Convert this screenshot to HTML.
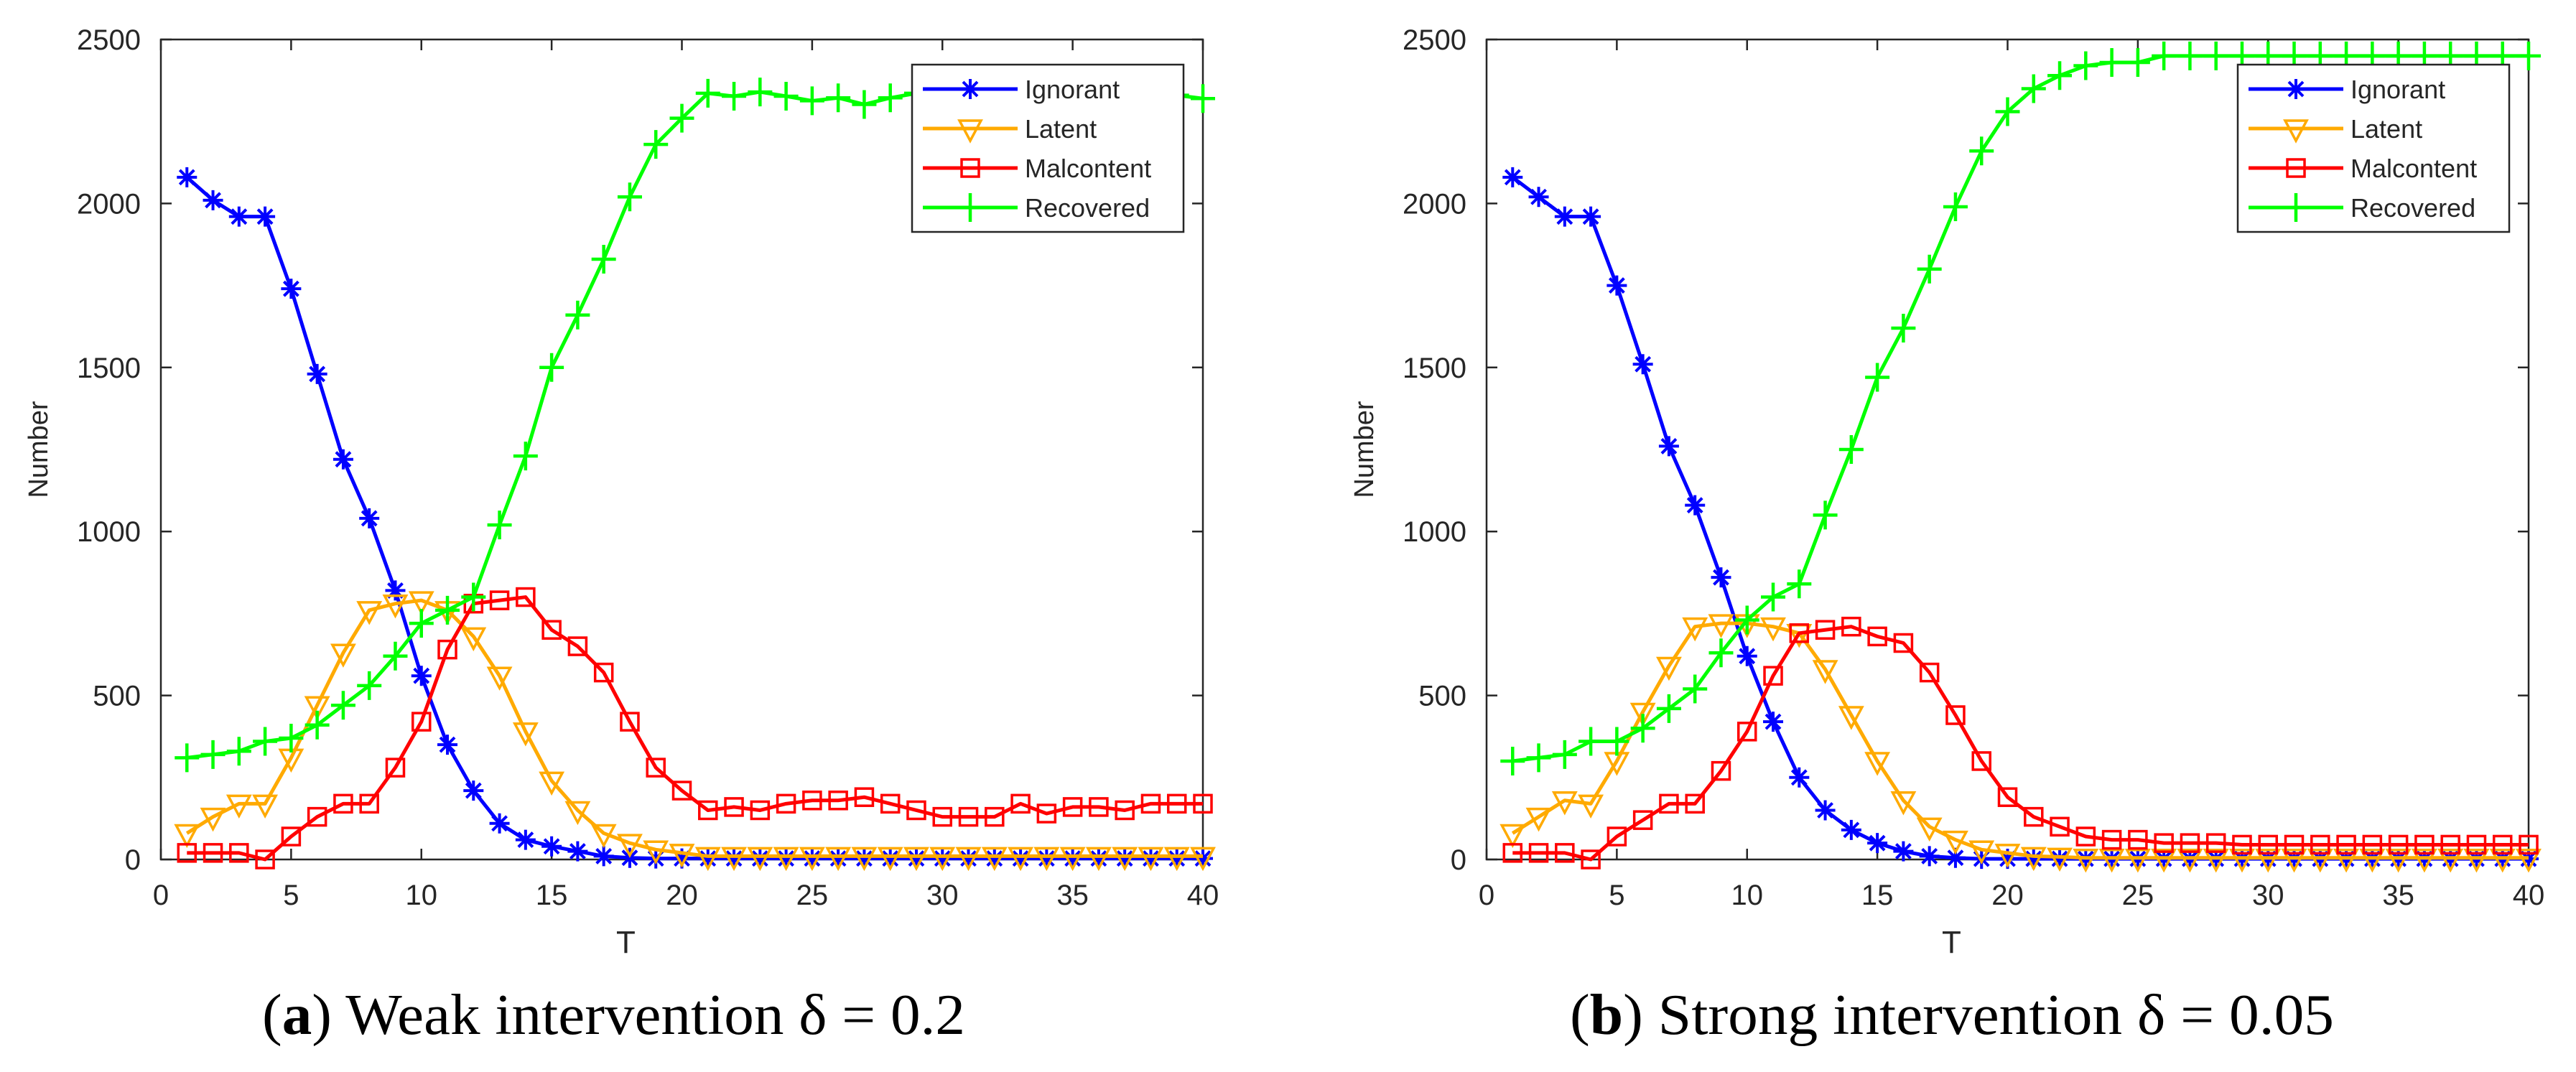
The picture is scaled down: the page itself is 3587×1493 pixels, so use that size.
<!DOCTYPE html>
<html><head><meta charset="utf-8"><style>
html,body{margin:0;padding:0;background:#fff}
svg{display:block}
text{font-family:"Liberation Sans",sans-serif;fill:#262626}
.cap{font-family:"Liberation Serif",serif;fill:#000}
</style></head><body>
<svg id="fig" width="3587" height="1493" viewBox="0 0 3587 1493" xmlns="http://www.w3.org/2000/svg"></svg>
<script>
const tVals = Array.from({length:40},(_, i)=>i+1);
const xTicks = [0,5,10,15,20,25,30,35,40];
const yTicks = [0,500,1000,1500,2000,2500];
const seriesNames = ["Ignorant","Latent","Malcontent","Recovered"];
const ignorantA = [2080,2010,1960,1960,1740,1480,1220,1040,820,560,350,210,110,60,40,25,10,5,3,3,3,3,3,3,3,3,3,3,3,3,3,3,3,3,3,3,3,3,3,3];
const latentA = [80,130,170,170,310,470,630,760,780,790,760,680,560,390,240,150,80,50,30,20,10,10,10,10,10,10,10,10,10,10,10,10,10,10,10,10,10,10,10,10];
const malcontentA = [20,20,20,0,70,130,170,170,280,420,640,780,790,800,700,650,570,420,280,210,150,160,150,170,180,180,190,170,150,130,130,130,170,140,160,160,150,170,170,170];
const recoveredA = [310,320,330,360,370,410,470,530,620,720,760,800,1020,1230,1500,1660,1830,2020,2180,2260,2336,2327,2340,2327,2313,2322,2302,2322,2336,2330,2330,2330,2330,2330,2330,2330,2330,2330,2330,2320];
const ignorantB = [2080,2020,1960,1960,1750,1510,1260,1080,860,620,420,250,150,90,50,25,10,5,2,2,2,2,2,2,2,2,2,2,2,2,2,2,2,2,2,2,2,2,2,2];
const latentB = [80,130,180,170,300,450,590,710,720,720,710,690,580,440,300,180,100,60,30,20,10,8,5,5,5,5,5,5,5,5,5,5,5,5,5,5,5,5,5,5];
const malcontentB = [20,20,20,0,70,120,170,170,270,390,560,690,700,710,680,660,570,440,300,190,130,100,70,60,60,50,50,50,45,45,45,45,45,45,45,45,45,45,45,45];
const recoveredB = [300,310,320,360,360,400,460,520,630,730,800,840,1050,1250,1470,1620,1800,1990,2160,2280,2350,2390,2420,2430,2430,2450,2450,2450,2450,2450,2450,2450,2450,2450,2450,2450,2450,2450,2450,2450];
const captions = [["a",") Weak intervention δ = 0.2"],["b",") Strong intervention δ = 0.05"]];

const NS="http://www.w3.org/2000/svg";
const svg=document.getElementById('fig');
const colors=["#0000ff","#ffaa00","#ff0000","#00ff00"];
const markers=["star","tri","sq","plus"];
function mk(tag,attrs,parent){const e=document.createElementNS(NS,tag);for(const k in attrs)e.setAttribute(k,attrs[k]);(parent||svg).appendChild(e);return e;}
function marker(g,type,x,y,c){
  let e;
  if(type==="star"){const r=14;e=mk('path',{d:`M${x-r} ${y}H${x+r}M${x} ${y-r}V${y+r}M${x-10} ${y-10}L${x+10} ${y+10}M${x-10} ${y+10}L${x+10} ${y-10}`,stroke:c,'stroke-width':4,fill:'none'},g);}
  else if(type==="tri"){e=mk('path',{d:`M${x-15} ${y-11}H${x+15}L${x} ${y+17}Z`,stroke:c,'stroke-width':3.5,fill:'none'},g);}
  else if(type==="sq"){e=mk('rect',{x:x-12,y:y-12,width:24,height:24,stroke:c,'stroke-width':3.5,fill:'none'},g);}
  else {e=mk('path',{d:`M${x-17} ${y}H${x+17}M${x} ${y-20}V${y+20}`,stroke:c,'stroke-width':4.5,fill:'none'},g);}
  return e;
}
function panel(x0,data,idx){
  const x1=x0+1451, yTop=55, yBot=1197;
  const X=v=>x0+(v/40)*(x1-x0);
  const Y=v=>yBot-(v/2500)*(yBot-yTop);
  const g=mk('g',{});
  
  
  const frame=mk('rect',{x:x0,y:yTop,width:x1-x0,height:yBot-yTop,fill:'#fff',stroke:'#262626','stroke-width':2.5},g);
  
  
  xTicks.forEach(t=>{
    const px=X(t);
    mk('path',{d:`M${px} ${yBot}v-15M${px} ${yTop}v15`,stroke:'#262626','stroke-width':2.5},g);
    const tx=mk('text',{x:px,y:yBot+63,'text-anchor':'middle','font-size':40},g);tx.textContent=t;
    
    
  });
  yTicks.forEach(t=>{
    const py=Y(t);
    mk('path',{d:`M${x0} ${py}h15M${x1} ${py}h-15`,stroke:'#262626','stroke-width':2.5},g);
    const tx=mk('text',{x:x0-28,y:py+14,'text-anchor':'end','font-size':40},g);tx.textContent=t;
    
    
  });
  const yl=mk('text',{x:0,y:0,'text-anchor':'middle','font-size':38,transform:`translate(${x0-158},${(yTop+yBot)/2}) rotate(-90)`},g);yl.textContent="Number";
  
  
  const xl=mk('text',{x:x0+634,y:1327,'font-size':44},g);xl.textContent="T";
  
  
  data.forEach((arr,s)=>{
    const sg=mk('g',{},g);
    
    
    const pts=arr.map((v,i)=>`${X(tVals[i])},${Y(v)}`).join(' ');
    mk('polyline',{points:pts,fill:'none',stroke:colors[s],'stroke-width':5,'stroke-linejoin':'round'},sg);
    arr.forEach((v,i)=>{const m=marker(sg,markers[s],X(tVals[i]),Y(v),colors[s]);
      
      });
  });
  const lx=x0+1046, ly=90;
  const lg=mk('g',{},g);
  
  
  mk('rect',{x:lx,y:ly,width:378,height:233,fill:'#fff',stroke:'#262626','stroke-width':2.5},lg);
  seriesNames.forEach((n,s)=>{
    const ey=ly+34+s*55;
    const eg=mk('g',{},lg);
    
    
    mk('line',{x1:lx+15,x2:lx+147,y1:ey,y2:ey,stroke:colors[s],'stroke-width':5},eg);
    marker(eg,markers[s],lx+81,ey,colors[s]);
    const t=mk('text',{x:lx+157,y:ey+13,'font-size':36},eg);t.textContent=n;
  });
  const cx=idx===0?365:2186;
  const cw=idx===0?979:1064;
  const c=mk('text',{x:cx,y:1440,'font-size':80,class:'cap',textLength:cw,lengthAdjust:'spacingAndGlyphs'},g);
  
  
  const p1=mk('tspan',{},c);p1.textContent="(";
  const p2=mk('tspan',{'font-weight':'bold'},c);p2.textContent=captions[idx][0];
  const p3=mk('tspan',{},c);p3.textContent=captions[idx][1];
}
panel(224,[ignorantA,latentA,malcontentA,recoveredA],0);
panel(2070,[ignorantB,latentB,malcontentB,recoveredB],1);
</script>
</body></html>
